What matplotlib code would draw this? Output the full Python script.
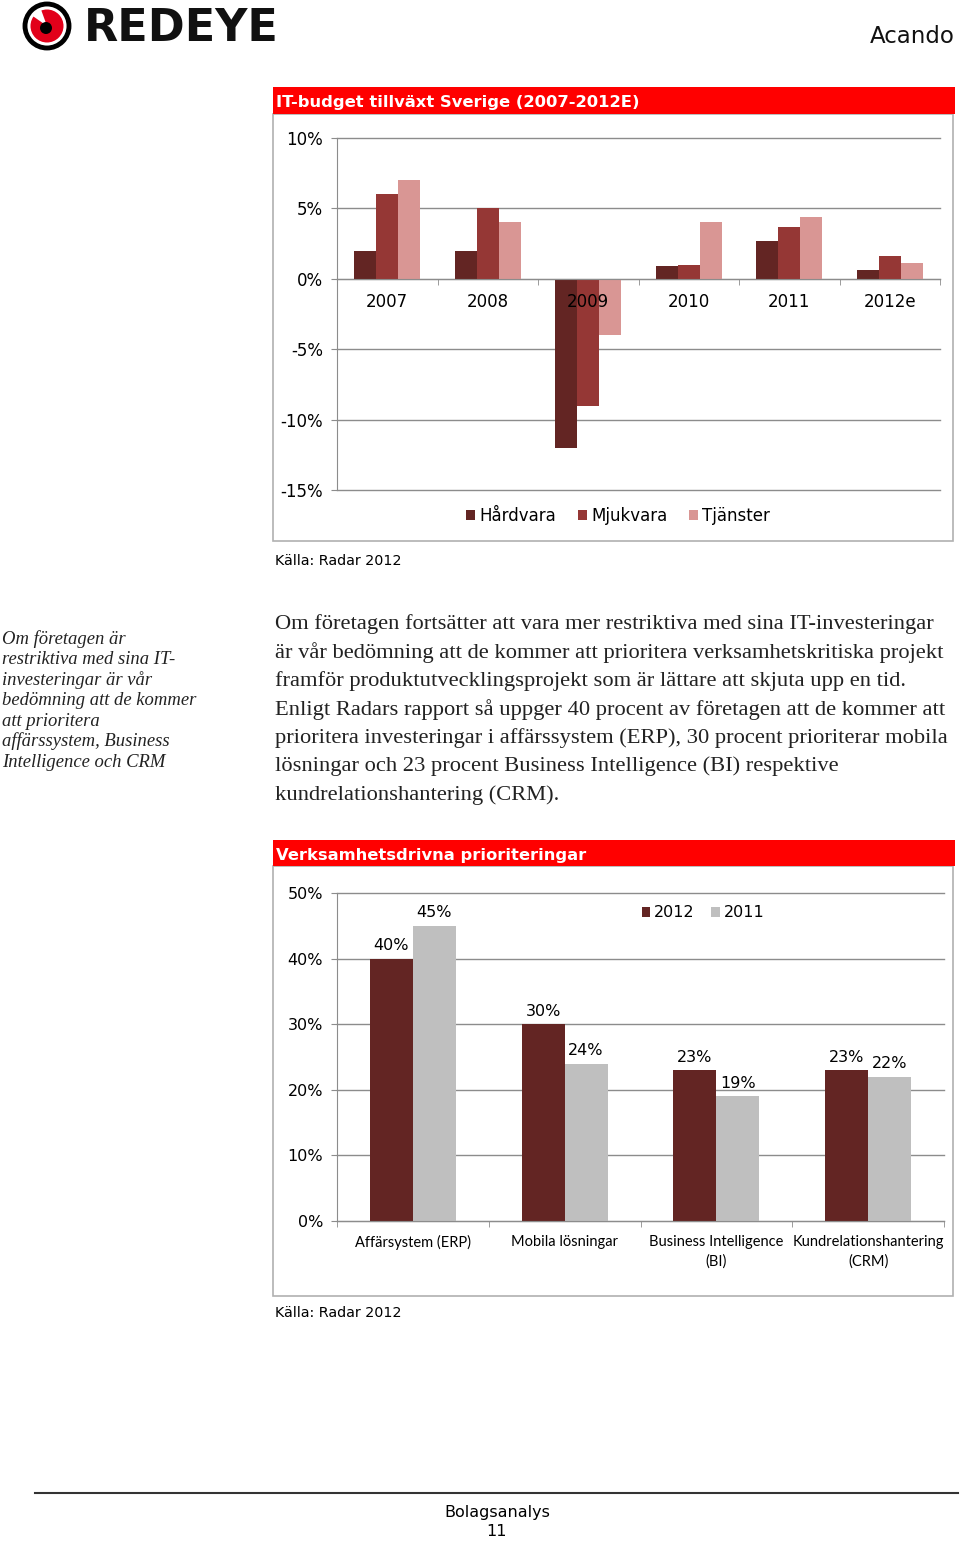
import numpy as np
import matplotlib
matplotlib.use("Agg")
import matplotlib.pyplot as plt
from matplotlib.patches import Rectangle, Circle, Wedge
from matplotlib.ticker import FuncFormatter

W, H = 960, 1541

# top chart data (IT budget growth, %)
years = ["2007", "2008", "2009", "2010", "2011", "2012e"]
hardvara = [2.0, 2.0, -12.0, 0.9, 2.7, 0.6]
mjukvara = [6.0, 5.0, -9.0, 1.0, 3.7, 1.6]
tjanster = [7.0, 4.0, -4.0, 4.0, 4.4, 1.1]
top_series = ["Hårdvara", "Mjukvara", "Tjänster"]
top_colors = ["#632523", "#953735", "#d99694"]
top_yticks = [10, 5, 0, -5, -10, -15]

# bottom chart data (priorities, %)
areas = ["Affärsystem (ERP)", "Mobila lösningar", "Business Intelligence\n(BI)",
         "Kundrelationshantering\n(CRM)"]
prio_2012 = [40, 30, 23, 23]
prio_2011 = [45, 24, 19, 22]
bot_colors = ["#632523", "#bfbfbf"]
bot_yticks = [0, 10, 20, 30, 40, 50]

side_lines = ["Om företagen är", "restriktiva med sina IT-", "investeringar är vår",
              "bedömning att de kommer", "att prioritera", "affärssystem, Business",
              "Intelligence och CRM"]
body_lines = [
    "Om företagen fortsätter att vara mer restriktiva med sina IT-investeringar",
    "är vår bedömning att de kommer att prioritera verksamhetskritiska projekt",
    "framför produktutvecklingsprojekt som är lättare att skjuta upp en tid.",
    "Enligt Radars rapport så uppger 40 procent av företagen att de kommer att",
    "prioritera investeringar i affärssystem (ERP), 30 procent prioriterar mobila",
    "lösningar och 23 procent Business Intelligence (BI) respektive",
    "kundrelationshantering (CRM).",
]

grid_c = "#8c8c8c"
pct = FuncFormatter(lambda v, p: f"{v:.0f}%")

fig = plt.figure(figsize=(W / 100, H / 100), dpi=100)


def px_axes(x0, y0, x1, y1, **kw):
    return fig.add_axes([x0 / W, 1 - y1 / H, (x1 - x0) / W, (y1 - y0) / H], **kw)


# page decorations drawn in pixel coordinates
bg = px_axes(0, 0, W, H)
bg.set_xlim(0, W)
bg.set_ylim(H, 0)
bg.axis("off")
bg.set_zorder(0)

# logo
bg.add_patch(Circle((47, 26), 22, fc="white", ec="black", lw=3.5))
bg.add_patch(Circle((47, 26), 16.5, fc="#e2001a", ec="none"))
bg.add_patch(Wedge((47, 26), 17.5, 215, 250, fc="white", ec="none"))
bg.add_patch(Circle((46, 28), 6, fc="black", ec="none"))
bg.text(84, 28, "REDEYE", fontsize=32, fontweight="bold", va="center", ha="left",
        color="#111111")
bg.text(955, 36, "Acando", fontsize=16.5, va="center", ha="right", color="#111111")

# chart frames and red headers
for (y0, y1, y2, title) in [(87, 114, 541, "IT-budget tillväxt Sverige (2007-2012E)"),
                            (840, 866, 1296, "Verksamhetsdrivna prioriteringar")]:
    bg.add_patch(Rectangle((273, y1), 680, y2 - y1, fc="white", ec="#b0b0b0", lw=1.2))
    bg.add_patch(Rectangle((273, y0), 682, y1 - y0, fc="#ff0000", ec="none"))
    bg.text(276, (y0 + y1) / 2 + 2, title, fontsize=11.8, fontweight="bold",
            color="white", va="center", ha="left")

bg.text(275, 561, "Källa: Radar 2012", fontsize=10.3, va="center", ha="left")
bg.text(275, 1313, "Källa: Radar 2012", fontsize=10.3, va="center", ha="left")

for i, line in enumerate(side_lines):
    bg.text(2, 639 + i * 20.5, line, fontsize=13.4, style="italic",
            family="Liberation Serif", va="center", ha="left", color="#222222")
for i, line in enumerate(body_lines):
    bg.text(275, 624 + i * 28.5, line, fontsize=16.2, family="Liberation Serif",
            va="center", ha="left", color="#222222")

# footer
bg.plot([35, 958], [1493, 1493], color="#333333", lw=1.5)
bg.text(497, 1513, "Bolagsanalys", fontsize=11.5, ha="center", va="center")
bg.text(497, 1532, "11", fontsize=11.5, ha="center", va="center")

# ---- top chart ----
ax1 = px_axes(337, 138, 940, 490)
ax1.set_zorder(2)
ax1.patch.set_alpha(0)
x = np.arange(len(years))
bw = 0.22
for k, (vals, name, col) in enumerate(zip([hardvara, mjukvara, tjanster], top_series, top_colors)):
    ax1.bar(x + (k - 1) * bw, vals, bw, color=col, label=name, zorder=1)
for t in top_yticks:
    ax1.axhline(t, color=grid_c, lw=1, zorder=0, clip_on=False)
ax1.set_xlim(-0.5, len(years) - 0.5)
ax1.set_ylim(-15, 10)
ax1.set_yticks(top_yticks)
ax1.yaxis.set_major_formatter(pct)
ax1.set_xticks(x)
ax1.set_xticklabels(years)
ax1.set_xticks(np.arange(len(years) + 1) - 0.5, minor=True)
ax1.tick_params(axis="x", which="major", length=0, pad=10, labelsize=12)
ax1.tick_params(axis="x", which="minor", length=4, color=grid_c, direction="out")
ax1.tick_params(axis="y", length=4, color=grid_c, pad=6, labelsize=12)
for s in ["top", "right"]:
    ax1.spines[s].set_visible(False)
ax1.spines["bottom"].set_position(("data", 0))
ax1.spines["bottom"].set_color(grid_c)
ax1.spines["left"].set_color(grid_c)
ax1.legend(loc="center", bbox_to_anchor=(618 / W, 1 - 516 / H), bbox_transform=fig.transFigure,
           ncol=3, frameon=False, fontsize=12, handlelength=0.55, handleheight=0.55,
           handletextpad=0.25, columnspacing=1.3)

# ---- bottom chart ----
ax2 = px_axes(337, 893, 944, 1221)
ax2.set_zorder(2)
ax2.patch.set_alpha(0)
x2 = np.arange(len(areas))
bw2 = 0.283
b1 = ax2.bar(x2 - bw2 / 2, prio_2012, bw2, color=bot_colors[0], label="2012", zorder=1)
b2 = ax2.bar(x2 + bw2 / 2, prio_2011, bw2, color=bot_colors[1], label="2011", zorder=1)
ax2.bar_label(b1, labels=[f"{v}%" for v in prio_2012], padding=4, fontsize=11.5)
ax2.bar_label(b2, labels=[f"{v}%" for v in prio_2011], padding=4, fontsize=11.5)
for t in bot_yticks:
    ax2.axhline(t, color=grid_c, lw=1, zorder=0, clip_on=False)
ax2.set_xlim(-0.5, len(areas) - 0.5)
ax2.set_ylim(0, 50)
ax2.set_yticks(bot_yticks)
ax2.yaxis.set_major_formatter(pct)
ax2.set_xticks(x2)
ax2.set_xticklabels(areas, family="Lato", fontsize=10.5, linespacing=1.5)
ax2.set_xticks(np.arange(len(areas) + 1) - 0.5, minor=True)
ax2.tick_params(axis="x", which="major", length=0, pad=10)
ax2.tick_params(axis="x", which="minor", length=4, color=grid_c, direction="out")
ax2.tick_params(axis="y", length=4, color=grid_c, pad=6, labelsize=11.5)
for s in ["top", "right"]:
    ax2.spines[s].set_visible(False)
ax2.spines["bottom"].set_color(grid_c)
ax2.spines["left"].set_color(grid_c)
ax2.legend(loc="center", bbox_to_anchor=(703 / W, 1 - 913 / H), bbox_transform=fig.transFigure,
           ncol=2, frameon=False, fontsize=11.5, handlelength=0.55, handleheight=0.55,
           handletextpad=0.25, columnspacing=1.0)

fig.savefig("out.png", dpi=100)
